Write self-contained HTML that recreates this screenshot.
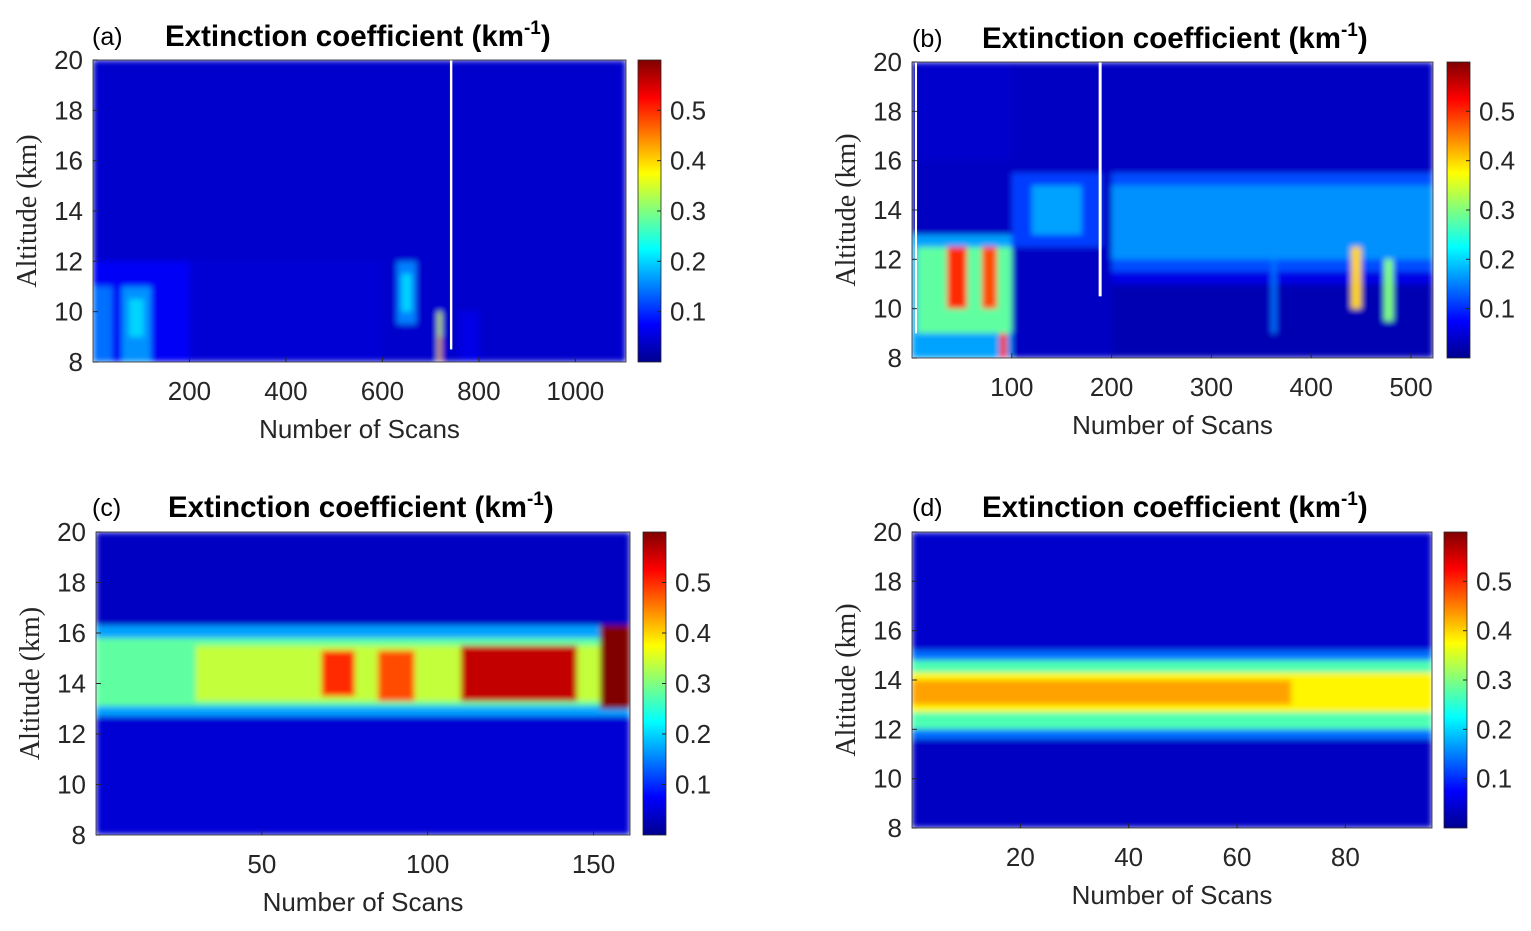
<!DOCTYPE html>
<html><head><meta charset="utf-8">
<style>
html,body{margin:0;padding:0;background:#fff;}
svg{display:block;}
.tick{font-family:"Liberation Sans",sans-serif;font-size:26px;fill:#262626;}
.xl{font-family:"Liberation Sans",sans-serif;font-size:26px;fill:#262626;}
.yl{font-family:"Liberation Serif",serif;font-size:28px;fill:#262626;}
.tt{font-family:"Liberation Sans",sans-serif;font-size:29.5px;font-weight:bold;fill:#000;}
.pl{font-family:"Liberation Sans",sans-serif;font-size:25px;fill:#000;}
</style></head>
<body>
<svg id="fig" width="1531" height="931" viewBox="0 0 1531 931" xmlns="http://www.w3.org/2000/svg">
<defs>
<linearGradient id="jet" x1="0" y1="1" x2="0" y2="0">
<stop offset="0" stop-color="#00008f"/><stop offset="0.125" stop-color="#0000ff"/>
<stop offset="0.375" stop-color="#00ffff"/><stop offset="0.625" stop-color="#ffff00"/>
<stop offset="0.875" stop-color="#ff0000"/><stop offset="1" stop-color="#800000"/>
</linearGradient>
<filter id="blur" x="0" y="0" width="1" height="1"><feGaussianBlur stdDeviation="3"/></filter>
</defs>
</svg>
<script>
// Panel (a) rectangles: scan start, scan end, altitude low, altitude high, value (-1 = no data)
const aScan0=[0,0,200,0,60,75,630,640,760,715,718,740];
const aScan1=[1105,200,600,40,120,105,670,660,800,722,721,745];
const aAlt0=[8,8,8,8,8,9,9.5,10,8,8,8,8.5];
const aAlt1=[20,12,12,11,11,10.5,12,11.5,10,10,9,20];
const aVal=[0.045,0.07,0.05,0.14,0.16,0.2,0.15,0.2,0.06,0.35,0.5,-1];
// Panel (b)
const bScan0=[0,0,5,35,70,88,100,120,200,200,200,200,0,360,440,473,3,187];
const bScan1=[522,100,100,55,85,95,190,170,522,522,522,522,100,365,450,482,5,190];
const bAlt0=[8,8,9,10,10,8,12.5,13,11.5,12,11,8,16,9,10,9.5,9,10.5];
const bAlt1=[20,13,12.5,12.5,12.5,9,15.5,15,15.5,15,11.5,11,20,12,12.5,12,20,20];
const bVal=[0.04,0.17,0.28,0.5,0.48,0.5,0.11,0.17,0.12,0.16,0.06,0.03,0.045,0.14,0.4,0.3,-1,-1];
// Panel (c)
const cScan0=[0,0,0,0,30,68,85,110,152];
const cScan1=[161,161,161,161,161,78,96,145,161];
const cAlt0=[8,8,12.7,13.1,13.3,13.5,13.3,13.3,13];
const cAlt1=[20,12.8,16.3,15.8,15.5,15.3,15.3,15.5,16.3];
const cVal=[0.04,0.05,0.17,0.28,0.34,0.5,0.48,0.56,0.6];
// Panel (d)
const dScan0=[0,0,0,0,0,0];
const dScan1=[96,96,96,96,96,70];
const dAlt0=[8,15,11.6,12,12.7,13];
const dAlt1=[20,20,15.2,14.8,14.3,14];
const dVal=[0.04,0.045,0.14,0.27,0.38,0.43];

const xTicksA=[200,400,600,800,1000], xTicksB=[100,200,300,400,500], xTicksC=[50,100,150], xTicksD=[20,40,60,80];
const yTicks=[8,10,12,14,16,18,20];
const cbTicks=[0.1,0.2,0.3,0.4,0.5];

const panels=[
 {id:'a',L:93,T:60,R:626,B:362,xmax:1105,cb:638,s0:aScan0,s1:aScan1,a0:aAlt0,a1:aAlt1,v:aVal,xt:xTicksA,lx:92,ly:45,ttx:165},
 {id:'b',L:912,T:62,R:1433,B:358,xmax:522,cb:1447,s0:bScan0,s1:bScan1,a0:bAlt0,a1:bAlt1,v:bVal,xt:xTicksB,lx:912,ly:47,ttx:982},
 {id:'c',L:96,T:532,R:630,B:835,xmax:161,cb:643,s0:cScan0,s1:cScan1,a0:cAlt0,a1:cAlt1,v:cVal,xt:xTicksC,lx:92,ly:516,ttx:168},
 {id:'d',L:912,T:532,R:1432,B:828,xmax:96,cb:1444,s0:dScan0,s1:dScan1,a0:dAlt0,a1:dAlt1,v:dVal,xt:xTicksD,lx:912,ly:516,ttx:982}
];
const NS='http://www.w3.org/2000/svg';
const svg=document.getElementById('fig');
function mk(tag,attrs,parent){const e=document.createElementNS(NS,tag);for(const k in attrs)e.setAttribute(k,attrs[k]);(parent||svg).appendChild(e);return e;}
function jet(v){const t=Math.max(0,Math.min(1,v/0.6));const c=x=>Math.round(255*Math.max(0,Math.min(1,x)));
 return `rgb(${c(1.5-Math.abs(4*t-3))},${c(1.5-Math.abs(4*t-2))},${c(1.5-Math.abs(4*t-1))})`;}
panels.forEach(p=>{
 const xs=s=>p.L+(p.R-p.L)*s/p.xmax;
 const ys=a=>p.B-(p.B-p.T)*(a-8)/12;
 const g=mk('g',{});
 
 
 const cp=mk('clipPath',{id:'cp'+p.id},g);mk('rect',{x:p.L,y:p.T,width:p.R-p.L,height:p.B-p.T},cp);
 const hm=mk('g',{'clip-path':'url(#cp'+p.id+')'},g);
 
 
 const inner=mk('g',{filter:'url(#blur)'},hm);
 const whites=[];
 for(let i=0;i<p.v.length;i++){
  const x0=xs(p.s0[i]),x1=xs(p.s1[i]),y0=ys(p.a1[i]),y1=ys(p.a0[i]);
  const r=mk('rect',{x:x0,y:y0,width:Math.max(1.5,x1-x0),height:y1-y0,fill:p.v[i]<0?'#fff':jet(p.v[i])},inner);
  
  
  if(p.v[i]<0)whites.push(r);
 }
 whites.forEach(r=>hm.appendChild(r));
 mk('rect',{x:p.L,y:p.T,width:p.R-p.L,height:p.B-p.T,fill:'none',stroke:'#262626','stroke-width':0.8},g);
 yTicks.forEach(t=>{const y=ys(t);mk('line',{x1:p.L,x2:p.L+5,y1:y,y2:y,stroke:'#262626'},g);
  const tx=mk('text',{x:p.L-10,y:y+9,'text-anchor':'end',class:'tick'},g);tx.textContent=t;
  
  });
 p.xt.forEach(t=>{const x=xs(t);mk('line',{x1:x,x2:x,y1:p.B,y2:p.B-5,stroke:'#262626'},g);
  const tx=mk('text',{x:x,y:p.B+38,'text-anchor':'middle',class:'tick'},g);tx.textContent=t;
  
  });
 const xl=mk('text',{x:(p.L+p.R)/2,y:p.B+76,'text-anchor':'middle',class:'xl'},g);xl.textContent='Number of Scans';
 
 
 const yl=mk('text',{x:0,y:0,'text-anchor':'middle',class:'yl',transform:`translate(${p.L-57},${(p.T+p.B)/2}) rotate(-90)`},g);yl.textContent='Altitude (km)';
 
 
 const pl=mk('text',{x:p.lx,y:p.ly,class:'pl'},g);pl.textContent='('+p.id+')';
 
 
 const tt=mk('text',{x:p.ttx,y:p.ly+1,class:'tt'},g);
 tt.innerHTML='Extinction coefficient (km<tspan dy="-12" font-size="19">-1</tspan><tspan dy="12">)</tspan>';
 
 
 const cb=mk('g',{},g);
 
 
 mk('rect',{x:p.cb,y:p.T,width:23,height:p.B-p.T,fill:'url(#jet)',stroke:'#262626','stroke-width':0.8},cb);
 const cy=v=>p.B-(p.B-p.T)*v/0.6;
 cbTicks.forEach(t=>{const y=cy(t);mk('line',{x1:p.cb+19,x2:p.cb+23,y1:y,y2:y,stroke:'#262626'},cb);
  const tx=mk('text',{x:p.cb+32,y:y+9,class:'tick'},cb);tx.textContent=t;
  
  });
});
</script>
</body></html>
